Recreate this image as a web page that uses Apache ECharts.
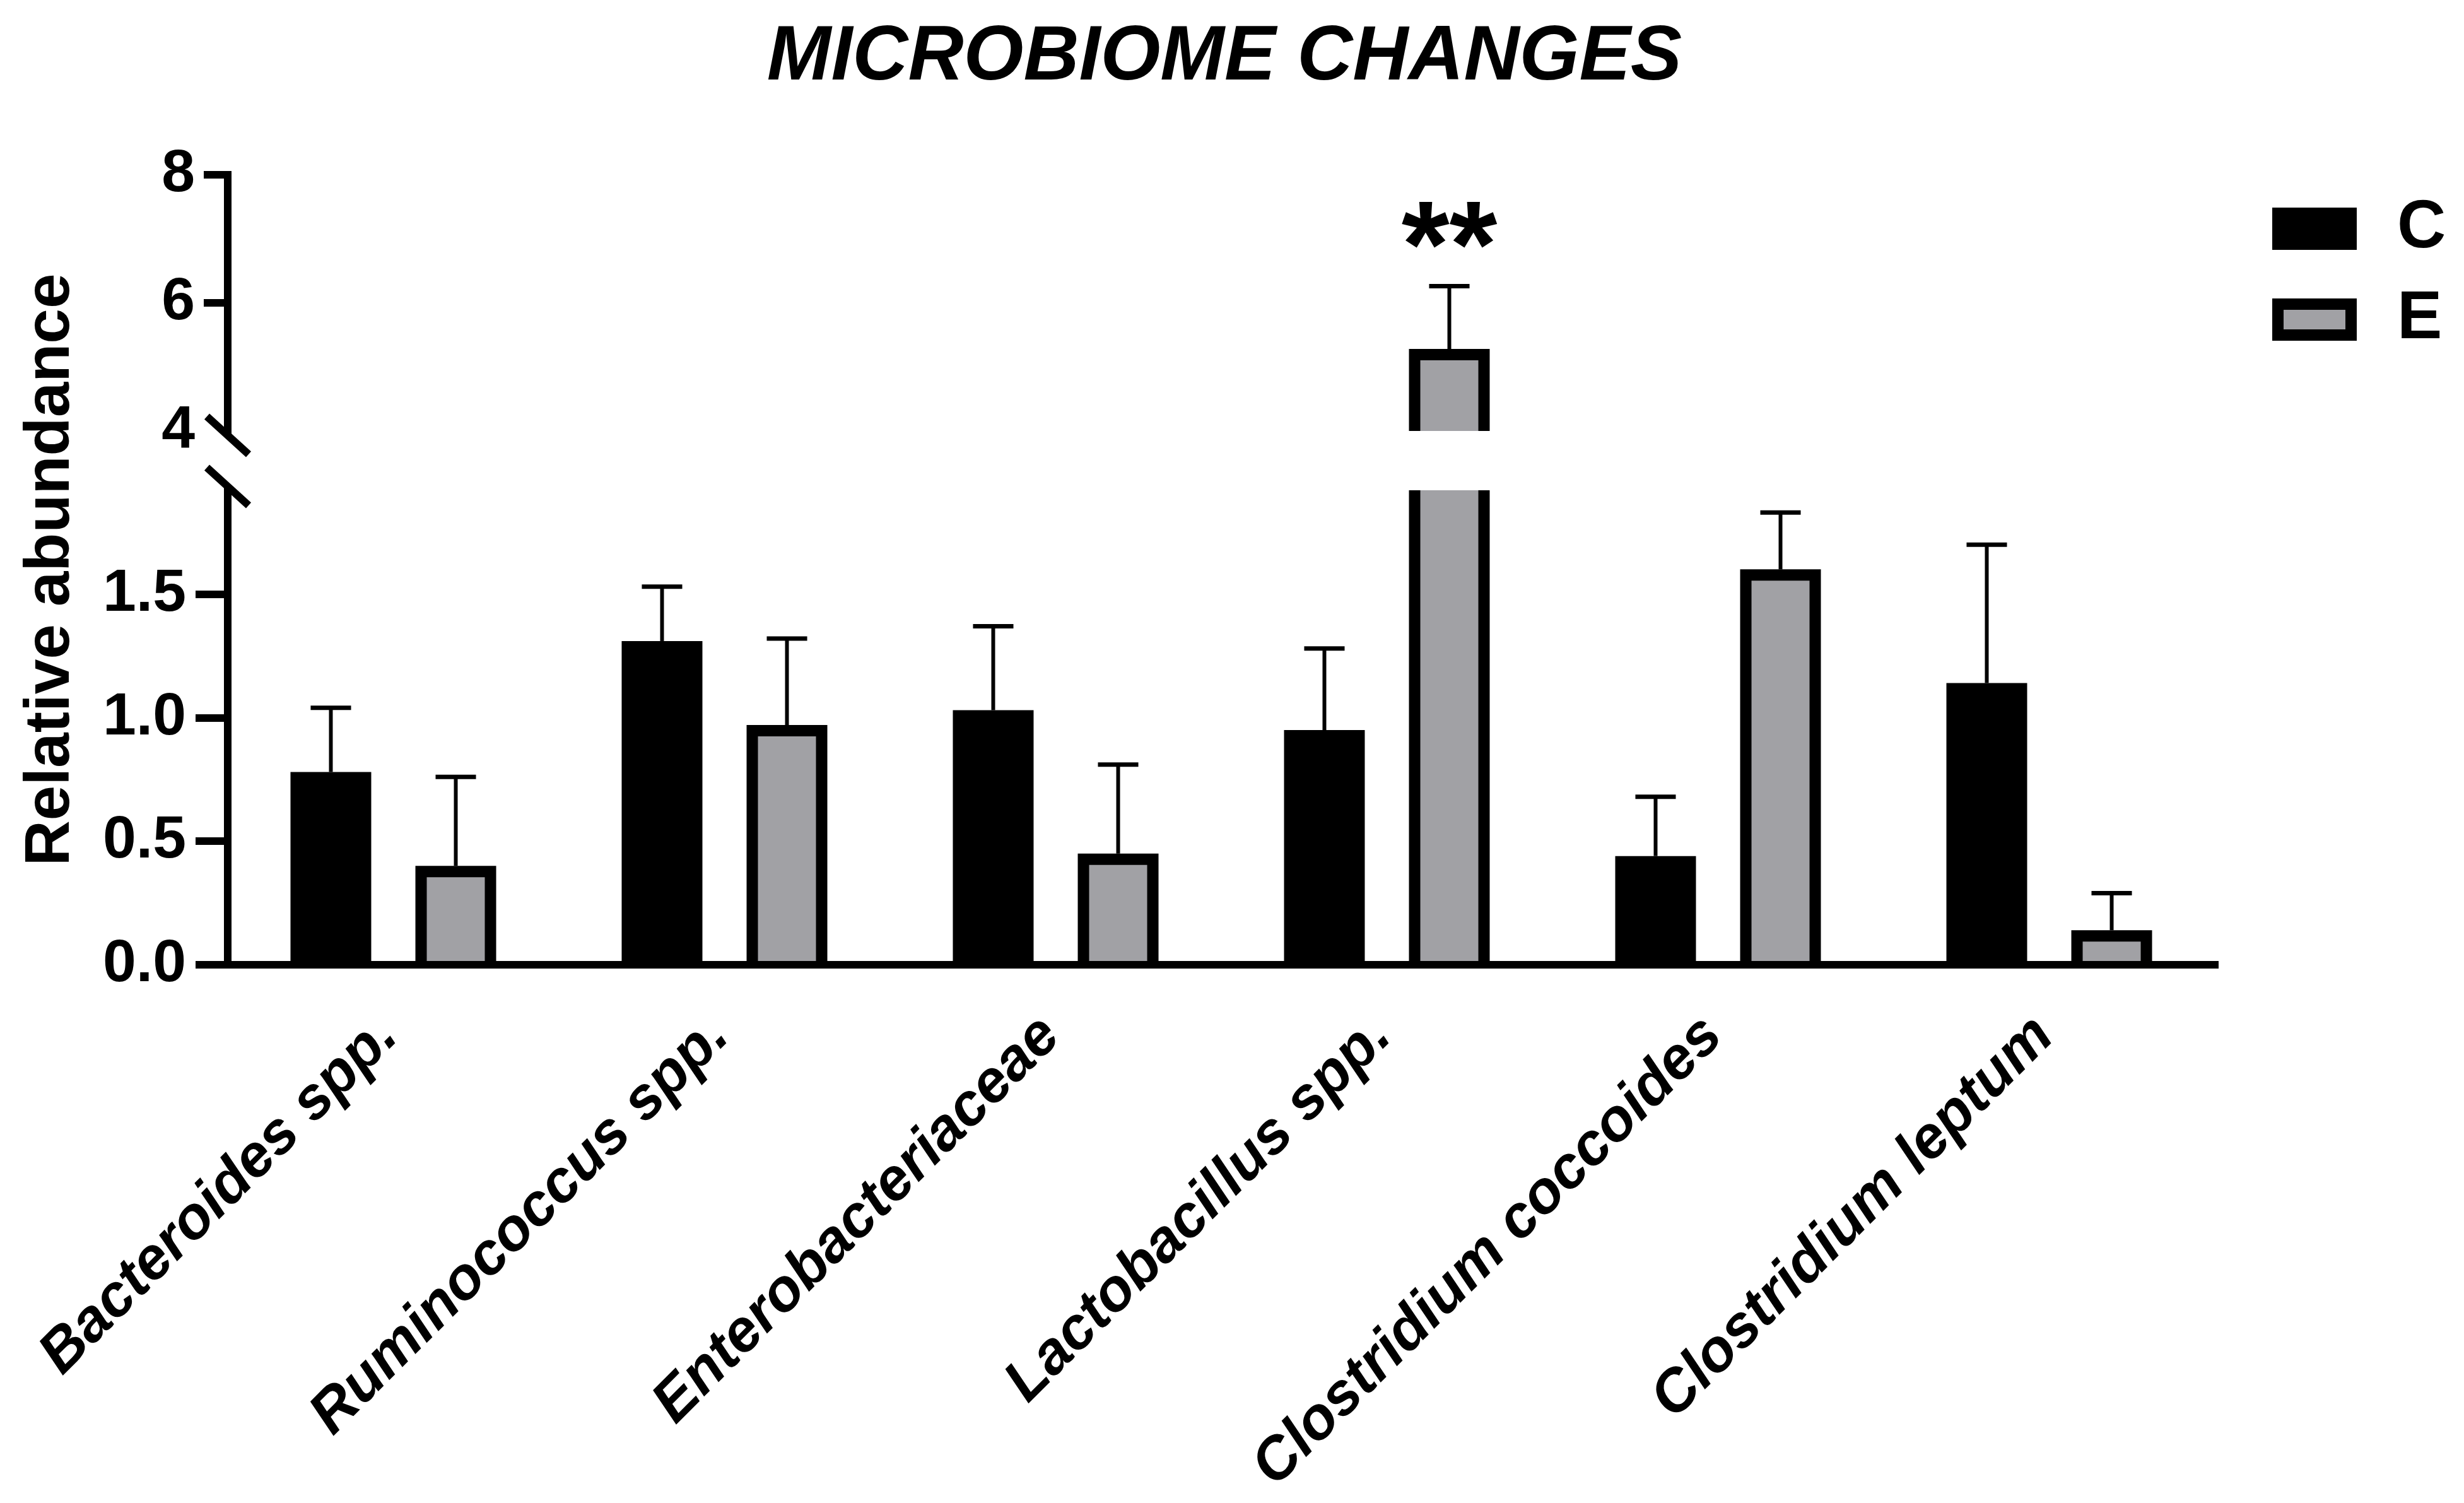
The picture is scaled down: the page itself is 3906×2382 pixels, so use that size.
<!DOCTYPE html>
<html>
<head>
<meta charset="utf-8">
<script src="https://cdn.jsdelivr.net/npm/echarts@6/dist/echarts.min.js"></script>
<style>
html,body{margin:0;padding:0;background:#ffffff;}
#chart{width:3906px;height:2382px;}
</style>
</head>
<body>
<div id="chart"></div>
<script>
// ---------------- data ----------------
const categories = ['Bacteroides spp.', 'Ruminococcus spp.', 'Enterobacteriaceae', 'Lactobacillus spp.', 'Clostridium coccoides', 'Clostridium leptum'];
const groupNames = ['C', 'E'];
const meanC = [0.78, 1.31, 1.03, 0.95, 0.44, 1.14];
const errC  = [0.26, 0.22, 0.34, 0.33, 0.24, 0.56];
const meanE = [0.40, 0.97, 0.45, 5.28, 1.60, 0.14];
const errE  = [0.36, 0.35, 0.36, 0.98, 0.23, 0.15];
const significance = ['', '', '', '**', '', ''];
const upperTicks = [4, 6, 8];
const upperTickMarks = [6, 8];
const lowerTicks = [0, 0.5, 1.0, 1.5];

// ---------------- styles ----------------
const FONT = "'Liberation Sans', Arial, Helvetica, sans-serif";
const GRAY = '#a1a1a5';
const BAR_FRAC = 0.2438;
const OFF_FRAC = 0.1886;
const CAP_FRAC = 0.122;
const BORDER = 18;
const AXIS_W = 12;

function barRenderer(offsetFrac, bordered, fill) {
  return function (params, api) {
    const cat = api.value(0), v = api.value(1);
    const band = api.size([1, 0])[0];
    const p = api.coord([cat, v]);
    const b = api.coord([cat, 0]);
    const cs = params.coordSys;
    const w = band * BAR_FRAC;
    const cx = p[0] + offsetFrac * band;
    const top = Math.max(p[1], cs.y);
    const bottom = Math.min(b[1], cs.y + cs.height);
    if (bottom - top <= 0.5) return null;
    const children = [{
      type: 'rect',
      shape: { x: cx - w / 2, y: top, width: w, height: bottom - top },
      style: { fill: '#000000' }
    }];
    if (bordered) {
      const insetTop = p[1] >= cs.y - 0.5 ? BORDER : 0;
      const ih = bottom - top - insetTop;
      if (ih > 0) {
        children.push({
          type: 'rect',
          shape: { x: cx - w / 2 + BORDER, y: top + insetTop, width: w - 2 * BORDER, height: ih },
          style: { fill: fill }
        });
      }
    }
    return { type: 'group', children: children };
  };
}

function errRenderer(offsetFrac, marks) {
  return function (params, api) {
    const cat = api.value(0), v = api.value(1), e = api.value(2);
    const band = api.size([1, 0])[0];
    const cs = params.coordSys;
    const p0 = api.coord([cat, v]);
    const p1 = api.coord([cat, v + e]);
    if (p0[1] > cs.y + cs.height + 0.5 || p0[1] < cs.y - 0.5 || p1[1] < cs.y - 0.5) return null;
    const cx = p0[0] + offsetFrac * band;
    const half = band * CAP_FRAC / 2;
    const children = [
      { type: 'line', shape: { x1: cx, y1: p0[1], x2: cx, y2: p1[1] }, style: { stroke: '#000', lineWidth: 6 } },
      { type: 'line', shape: { x1: cx - half, y1: p1[1], x2: cx + half, y2: p1[1] }, style: { stroke: '#000', lineWidth: 7 } }
    ];
    const m = marks ? marks[params.dataIndex] : '';
    if (m) {
      children.push({
        type: 'text',
        style: {
          text: m, x: cx, y: p1[1] - 53, align: 'center', verticalAlign: 'middle',
          fontSize: 195, fontWeight: 'bold', fontFamily: FONT, fill: '#000'
        }
      });
    }
    return { type: 'group', children: children };
  };
}

const dataC = meanC.map((v, i) => [i, v]);
const dataE = meanE.map((v, i) => [i, v]);
const dataCe = meanC.map((v, i) => [i, v, errC[i]]);
const dataEe = meanE.map((v, i) => [i, v, errE[i]]);

const chart = echarts.init(document.getElementById('chart'), null, { renderer: 'canvas' });

const gridLeft = 361, gridWidth = 3150;

const option = {
  backgroundColor: '#ffffff',
  animation: false,
  title: {
    text: 'MICROBIOME CHANGES',
    left: 1941, top: 31, textAlign: 'center', padding: 0,
    textStyle: { fontSize: 122, fontWeight: 'bold', fontStyle: 'italic', fontFamily: FONT, color: '#000', lineHeight: 122 }
  },
  legend: {
    orient: 'vertical',
    left: 3597, top: 304,
    itemWidth: 116, itemHeight: 49, itemGap: 37,
    selectedMode: false,
    textStyle: { fontSize: 107, fontWeight: 'bold', fontFamily: FONT, color: '#000', lineHeight: 80, padding: [0, 0, 0, 68] },
    data: [
      { name: groupNames[0], icon: 'rect', itemStyle: { color: '#000', borderColor: '#000', borderWidth: BORDER } },
      { name: groupNames[1], icon: 'rect', itemStyle: { color: GRAY, borderColor: '#000', borderWidth: BORDER } }
    ]
  },
  grid: [
    { left: gridLeft, width: gridWidth, top: 277, height: 406, outerBoundsMode: 'none' },
    { left: gridLeft, width: gridWidth, top: 777, height: 752, outerBoundsMode: 'none' },
    { left: gridLeft, width: gridWidth, top: 277, height: 1252, outerBoundsMode: 'none' }
  ],
  xAxis: [
    { gridIndex: 0, type: 'category', data: categories, show: false },
    {
      gridIndex: 1, type: 'category', data: categories, z: 5,
      axisLine: { lineStyle: { color: '#000', width: AXIS_W, cap: 'square' } },
      axisTick: { alignWithLabel: true, length: 38, lineStyle: { color: '#000', width: AXIS_W } },
      axisLabel: {
        interval: 0, rotate: 45, align: 'right', verticalAlign: 'top', margin: 24, padding: [0, 58, 0, 0],
        fontSize: 94, fontWeight: 'bold', fontStyle: 'italic', fontFamily: FONT, color: '#000'
      },
      splitLine: { show: false }
    },
    { gridIndex: 2, type: 'category', data: categories, show: false }
  ],
  yAxis: [
    {
      gridIndex: 0, type: 'value', min: 4, max: 8, interval: 2, z: 5,
      axisLine: { show: true, lineStyle: { color: '#000', width: AXIS_W, cap: 'square' } },
      axisTick: { show: true, length: 38, customValues: upperTickMarks, lineStyle: { color: '#000', width: AXIS_W } },
      axisLabel: { customValues: upperTicks, margin: 52, fontSize: 95, fontWeight: 'bold', fontFamily: FONT, color: '#000' },
      splitLine: { show: false }
    },
    {
      gridIndex: 1, type: 'value', min: 0, max: 1.92, interval: 0.5, z: 5,
      axisLine: { show: true, lineStyle: { color: '#000', width: AXIS_W, cap: 'square' } },
      axisTick: { show: true, length: 51, customValues: lowerTicks, lineStyle: { color: '#000', width: AXIS_W } },
      axisLabel: {
        customValues: lowerTicks, margin: 66, fontSize: 95, fontWeight: 'bold', fontFamily: FONT, color: '#000',
        formatter: v => Number(v).toFixed(1)
      },
      splitLine: { show: false }
    },
    {
      gridIndex: 2, type: 'value', min: 0, max: 1,
      axisLine: { show: false }, axisTick: { show: false }, axisLabel: { show: false }, splitLine: { show: false },
      name: 'Relative abundance', nameLocation: 'middle', nameRotate: 90, nameGap: 280,
      nameTextStyle: { fontSize: 100, fontWeight: 'bold', fontFamily: FONT, color: '#000', verticalAlign: 'middle', align: 'center' }
    }
  ],
  series: [
    { name: 'C', type: 'custom', xAxisIndex: 0, yAxisIndex: 0, z: 2, itemStyle: { color: '#000' }, encode: { x: 0, y: 1 }, data: dataC, renderItem: barRenderer(-OFF_FRAC, false, '#000') },
    { name: 'E', type: 'custom', xAxisIndex: 0, yAxisIndex: 0, z: 2, itemStyle: { color: GRAY }, encode: { x: 0, y: 1 }, data: dataE, renderItem: barRenderer(OFF_FRAC, true, GRAY) },
    { name: 'C', type: 'custom', xAxisIndex: 1, yAxisIndex: 1, z: 2, itemStyle: { color: '#000' }, encode: { x: 0, y: 1 }, data: dataC, renderItem: barRenderer(-OFF_FRAC, false, '#000') },
    { name: 'E', type: 'custom', xAxisIndex: 1, yAxisIndex: 1, z: 2, itemStyle: { color: GRAY }, encode: { x: 0, y: 1 }, data: dataE, renderItem: barRenderer(OFF_FRAC, true, GRAY) },
    { name: 'C', type: 'custom', xAxisIndex: 0, yAxisIndex: 0, z: 3, itemStyle: { color: '#000' }, encode: { x: 0, y: 1 }, data: dataCe, renderItem: errRenderer(-OFF_FRAC, null) },
    { name: 'E', type: 'custom', xAxisIndex: 0, yAxisIndex: 0, z: 3, itemStyle: { color: GRAY }, encode: { x: 0, y: 1 }, data: dataEe, renderItem: errRenderer(OFF_FRAC, significance) },
    { name: 'C', type: 'custom', xAxisIndex: 1, yAxisIndex: 1, z: 3, itemStyle: { color: '#000' }, encode: { x: 0, y: 1 }, data: dataCe, renderItem: errRenderer(-OFF_FRAC, null) },
    { name: 'E', type: 'custom', xAxisIndex: 1, yAxisIndex: 1, z: 3, itemStyle: { color: GRAY }, encode: { x: 0, y: 1 }, data: dataEe, renderItem: errRenderer(OFF_FRAC, significance) }
  ]
};

chart.setOption(option);

// axis-break slashes, positioned from the axes themselves
const x0 = chart.convertToPixel({ xAxisIndex: 1 }, 0);
const x1 = chart.convertToPixel({ xAxisIndex: 1 }, 1);
const axisX = x0 - (x1 - x0) / 2;
const yUpperEnd = chart.convertToPixel({ yAxisIndex: 0 }, 4);
const yLowerEnd = chart.convertToPixel({ yAxisIndex: 1 }, 1.92);
function slash(cy) {
  return { type: 'line', z: 10, shape: { x1: axisX - 33, y1: cy - 30, x2: axisX + 33, y2: cy + 30 }, style: { stroke: '#000', lineWidth: AXIS_W } };
}
chart.setOption({ graphic: [slash(yUpperEnd + 7), slash(yLowerEnd - 6)] });
</script>
</body>
</html>
